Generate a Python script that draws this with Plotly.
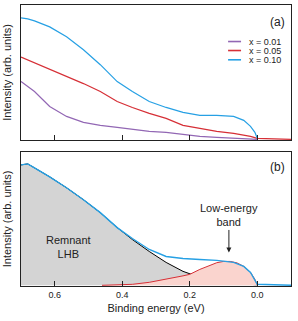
import plotly.graph_objects as go

# ---------------- data ----------------
# Panel (a): doping series
e_a = [0.70, 0.68, 0.66, 0.615, 0.565, 0.515, 0.465, 0.415, 0.37, 0.32, 0.27, 0.22, 0.17, 0.12, 0.07, 0.04, 0.02, 0.007, 0.0]
i_x010 = [122, 121, 119, 113, 103, 90, 75, 58, 48, 38, 32, 27, 24, 24, 23, 19, 13, 7, 1]

e_x005 = [0.70, 0.66, 0.615, 0.565, 0.515, 0.465, 0.415, 0.37, 0.32, 0.27, 0.22, 0.17, 0.12, 0.07, 0.02, 0.0, -0.1]
i_x005 = [82.7, 77, 70, 63, 56, 48, 38, 32, 26, 21, 14, 11, 8, 6, 3, 1, 0]

e_x001 = [0.70, 0.66, 0.615, 0.565, 0.515, 0.465, 0.415, 0.37, 0.32, 0.27, 0.22, 0.17, 0.12, 0.07, 0.0]
i_x001 = [58, 48, 33, 23, 17, 14, 12, 10, 8, 7, 5, 3, 2, 1, 0]

# Panel (b): x = 0.10 spectrum and its decomposition
e_b = [0.70, 0.68, 0.66, 0.615, 0.565, 0.515, 0.465, 0.415, 0.37, 0.32, 0.27, 0.22, 0.17, 0.12, 0.07, 0.04, 0.02, 0.007, 0.0, -0.1]
i_b = [121, 122, 118, 109, 98, 86, 73, 58, 47, 36, 29, 27, 26, 25, 23, 19, 13, 6, 1, 0]

e_lhb = [0.70, 0.68, 0.66, 0.615, 0.565, 0.515, 0.465, 0.415, 0.37, 0.32, 0.27, 0.22, 0.17, 0.12, 0.07, 0.0]
i_lhb = [121, 122, 118, 109, 98, 86, 73, 58, 46, 34, 23, 14, 8, 4, 2, 0.5]

e_leb = [0.46, 0.37, 0.32, 0.27, 0.22, 0.20, 0.17, 0.14, 0.12, 0.10, 0.08, 0.06, 0.04, 0.02, 0.007, 0.0]
i_leb = [0, 1, 3, 6, 9.5, 11, 16, 20, 22.7, 24, 24, 22.5, 19, 13, 6, 0.5]

tick_vals = [0.6, 0.4, 0.2, 0.0]
tick_text = ["0.6", "0.4", "0.2", "0.0"]
legend_names = ["x = 0.01", "x = 0.05", "x = 0.10"]

# ---------------- styles ----------------
PURPLE = "#9267b4"
RED = "#d62f36"
BLUE = "#26a0e4"
FONT = "Arial, Liberation Sans, sans-serif"
series_colors = [PURPLE, RED, BLUE]

fig = go.Figure()

# panel (a)
fig.add_trace(go.Scatter(x=e_x001, y=i_x001, mode="lines", name=legend_names[0],
                         line=dict(color=PURPLE, width=1.2), xaxis="x", yaxis="y"))
fig.add_trace(go.Scatter(x=e_x005, y=i_x005, mode="lines", name=legend_names[1],
                         line=dict(color=RED, width=1.2), xaxis="x", yaxis="y"))
fig.add_trace(go.Scatter(x=e_a, y=i_x010, mode="lines", name=legend_names[2],
                         line=dict(color=BLUE, width=1.2), xaxis="x", yaxis="y"))

# panel (b)
fig.add_trace(go.Scatter(x=e_lhb, y=i_lhb, mode="lines", fill="tozeroy",
                         fillcolor="#d4d4d4", line=dict(color="black", width=1),
                         showlegend=False, xaxis="x2", yaxis="y2"))
fig.add_trace(go.Scatter(x=e_leb, y=i_leb, mode="lines", fill="tozeroy",
                         fillcolor="rgba(250,212,206,1)", line=dict(color=RED, width=1),
                         showlegend=False, xaxis="x2", yaxis="y2"))
fig.add_trace(go.Scatter(x=e_b, y=i_b, mode="lines",
                         line=dict(color=BLUE, width=1.4),
                         showlegend=False, xaxis="x2", yaxis="y2"))

axis_common = dict(range=[0.7, -0.1], showline=True, mirror=True, linecolor="#222",
                   linewidth=1, ticks="inside", ticklen=5, tickcolor="#222",
                   tickvals=tick_vals, ticktext=tick_text, showgrid=False, zeroline=False)
yaxis_common = dict(showline=True, mirror=True, linecolor="#222", linewidth=1,
                    showticklabels=False, ticks="", showgrid=False, zeroline=False,
                    title=dict(text="Intensity (arb. units)", font=dict(size=11, color="#222"),
                               standoff=6))

# compact legend (line sample + label) in the top-right of panel (a)
legend_rows_y = [0.870, 0.838, 0.805]
legend_shapes = []
legend_annots = []
for name, col, yy in zip(legend_names, series_colors, legend_rows_y):
    legend_shapes.append(dict(type="line", xref="paper", yref="paper",
                              x0=0.767, x1=0.815, y0=yy, y1=yy,
                              line=dict(color=col, width=1.6)))
    legend_annots.append(dict(text=name, xref="paper", yref="paper", x=0.838, y=yy,
                              xanchor="left", yanchor="middle", showarrow=False,
                              font=dict(size=9, color="#222")))

fig.update_layout(
    width=298, height=321,
    margin=dict(l=21, r=7, t=5, b=35),
    paper_bgcolor="white", plot_bgcolor="white",
    font=dict(family=FONT, size=9, color="#222"),
    showlegend=False,
    xaxis=dict(**axis_common, domain=[0, 1], anchor="y", showticklabels=False),
    yaxis=dict(**yaxis_common, domain=[0.52, 1], range=[-0.6, 135]),
    xaxis2=dict(**axis_common, domain=[0, 1], anchor="y2", matches="x",
                title=dict(text="Binding energy (eV)", font=dict(size=11, color="#222"), standoff=5),
                tickfont=dict(size=9, color="#222")),
    yaxis2=dict(**yaxis_common, domain=[0, 0.477], range=[-0.7, 134]),
    shapes=legend_shapes,
    annotations=legend_annots + [
        dict(text="(a)", x=-0.061, y=118, xref="x", yref="y", showarrow=False,
             font=dict(size=12, color="#222")),
        dict(text="(b)", x=-0.061, y=119, xref="x2", yref="y2", showarrow=False,
             font=dict(size=12, color="#222")),
        dict(text="Remnant<br>LHB", x=0.56, y=38, xref="x2", yref="y2", showarrow=False,
             font=dict(size=11, color="#222")),
        dict(text="Low-energy<br>band", x=0.084, y=33, xref="x2", yref="y2", showarrow=True,
             ax=0, ay=-37, arrowhead=2, arrowsize=1, arrowwidth=1, arrowcolor="#222",
             font=dict(size=11, color="#222")),
    ],
)

fig.write_html("out.html", config={"displayModeBar": False},
               post_script="document.body.style.margin='0';")
